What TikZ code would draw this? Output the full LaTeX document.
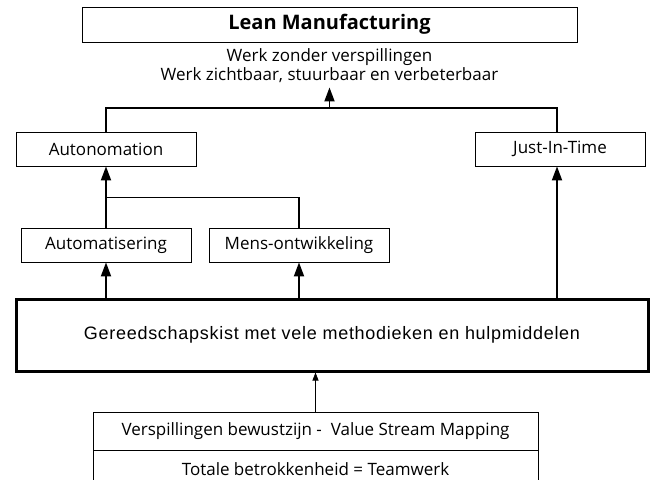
\documentclass[tikz,border=0pt]{standalone}
\usepackage{fontspec}
\setmainfont{Open Sans}
\newfontfamily\kistfont[LetterSpace=4]{Liberation Sans}
\usetikzlibrary{arrows.meta,positioning}
\tikzset{%
  >={Triangle[width=10pt,length=14pt]},
  % Specifications for style of nodes:
  base/.style = {
    rectangle,
    draw=black,
    line width=0.8pt,
    inner sep=0pt,
    text centered,
    font=\fontsize{17}{19}\selectfont
  },
  lean/.style = {base, minimum width=495pt, minimum height=35pt,
                 font=\fontsize{20}{24}\selectfont\bfseries},
  goal/.style = {base, draw=none, align=center, inner ysep=4pt},
  pillar/.style = {base, minimum height=34pt},
  kist/.style = {base, line width=3pt, minimum width=632pt, minimum height=72pt,
                 font=\kistfont\fontsize{18}{20}\selectfont},
  fundament/.style = {base, minimum width=445pt, minimum height=38pt},
  link/.style = {line width=1.8pt},
  thin/.style = {line width=0.8pt, -{Triangle[width=6pt,length=8pt]}},
}

\begin{document}
\begin{tikzpicture}[
  x=1pt, y=1pt,
  node distance=96pt,
  ]
  \useasboundingbox (0,0) rectangle (655,-479);
  \clip (0,0) rectangle (655,-479);
  % nodes
  \node (lean) [lean] at (329.5,-24.5) {Lean Manufacturing};
  \node (goal) [goal, below of=lean, yshift=54.5pt]
  {Werk zonder verspillingen\\Werk zichtbaar, stuurbaar en verbeterbaar};
  \node (autonomation) [pillar, minimum width=180pt, below of=lean, xshift=-223.5pt, yshift=-28.5pt] {Autonomation};
  \node (jit) [pillar, minimum width=170pt, right of=autonomation, xshift=358pt] {Just-In-Time};
  \node (automatisering) [pillar, minimum width=170pt, below of=autonomation] {Automatisering};
  \node (mens) [pillar, minimum width=180pt, right of=automatisering, xshift=97pt] {Mens-ontwikkeling};
  \node (kist) [kist, below of=mens, xshift=33pt, yshift=6pt]
  {Gereedschapskist met vele methodieken en hulpmiddelen};
  \node (verspilling) [fundament, below of=kist, xshift=-16.5pt]
  {Verspillingen bewustzijn -\ \ Value Stream Mapping};
  \node (teamwerk) [fundament, below of=verspilling, yshift=58pt]
  {Totale betrokkenheid = Teamwerk};
  \coordinate (hub) at ([yshift=24pt]goal |- autonomation.north);
  % lines
  \draw[link] (autonomation.north) |- (hub) -| ([xshift=-3pt]jit.north);
  \draw[link, ->] (hub) -- (goal.south);
  \draw[link, ->] (automatisering.north) -- (autonomation.south);
  \draw[link] (mens.north) |- ([yshift=-31pt]autonomation.south);
  \draw[link, ->] (kist.north -| automatisering.south) -- (automatisering.south);
  \draw[link, ->] (kist.north -| mens.south) -- (mens.south);
  \draw[link, ->] ([xshift=-3pt]kist.north -| jit.south) -- ([xshift=-3pt]jit.south);
  \draw[thin] (verspilling.north) -- (verspilling.north |- kist.south);
\end{tikzpicture}
\end{document}
